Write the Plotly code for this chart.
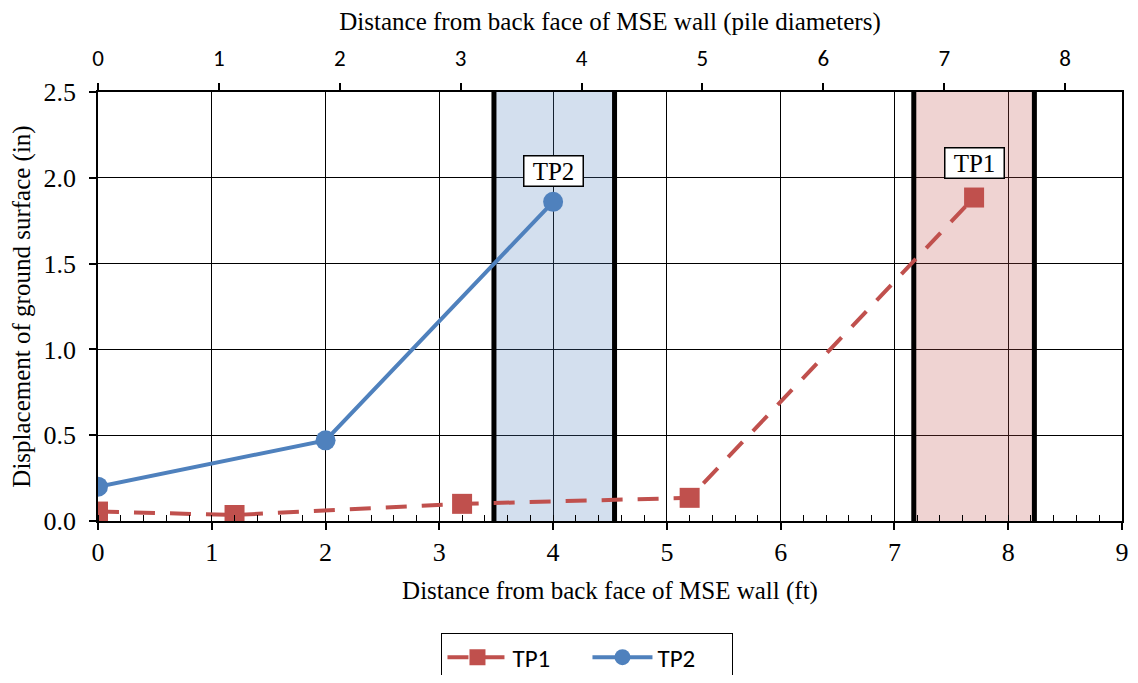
import plotly.graph_objects as go

# Data
tp1_x = [0, 1.2, 3.2, 5.2, 7.7]
tp1_y = [0.055, 0.035, 0.10, 0.135, 1.885]
tp2_x = [0, 2, 4]
tp2_y = [0.20, 0.47, 1.86]

pile_tp2 = [3.48, 4.54]
pile_tp1 = [7.17, 8.23]
pile_diam_ft = 1.0625

label_tp2 = (4.0, 2.04)
label_tp1 = (7.7, 2.085)

x_max = 9
y_max = 2.5
top_ticks = list(range(0, 9))

RED = "#C0504D"
BLUE = "#4F81BD"
SERIF = "Liberation Serif, Times New Roman, serif"
SANS = "Carlito, Calibri, Lato, Liberation Sans, sans-serif"

fig = go.Figure()

fig.add_trace(go.Scatter(
    x=tp1_x, y=tp1_y, name="TP1", mode="lines+markers",
    line=dict(color=RED, width=4, dash="21px,15px"),
    marker=dict(symbol="square", size=20, color=RED),
))
fig.add_trace(go.Scatter(
    x=tp2_x, y=tp2_y, name="TP2", mode="lines+markers",
    line=dict(color=BLUE, width=4),
    marker=dict(symbol="circle", size=20, color=BLUE),
))
# invisible trace for top axis
fig.add_trace(go.Scatter(x=[0, x_max / pile_diam_ft], y=[0, 0], xaxis="x2",
                         mode="markers", marker=dict(opacity=0), showlegend=False,
                         hoverinfo="skip"))

# shaded pile regions
fig.add_shape(type="rect", x0=pile_tp2[0], x1=pile_tp2[1], y0=0, y1=y_max,
              xref="x", yref="y", fillcolor="rgba(79,129,189,0.25)",
              line=dict(width=0), layer="between")
fig.add_shape(type="rect", x0=pile_tp1[0], x1=pile_tp1[1], y0=0, y1=y_max,
              xref="x", yref="y", fillcolor="rgba(192,80,77,0.25)",
              line=dict(width=0), layer="between")
for xv in pile_tp2 + pile_tp1:
    fig.add_shape(type="line", x0=xv, x1=xv, y0=0, y1=y_max, xref="x", yref="y",
                  line=dict(color="black", width=5), layer="between")

for txt, (lx, ly) in [("TP2", label_tp2), ("TP1", label_tp1)]:
    fig.add_annotation(x=lx, y=ly, text=txt, showarrow=False,
                       font=dict(family=SERIF, size=25, color="black"),
                       width=54, height=25,
                       bgcolor="white", bordercolor="black", borderwidth=1.5,
                       borderpad=2)

fig.update_layout(
    width=1122, height=667,
    margin=dict(l=90, r=8, t=84, b=154, autoexpand=False),
    plot_bgcolor="white", paper_bgcolor="white",
    font=dict(family=SERIF, size=25, color="black"),
    xaxis=dict(
        range=[0, x_max], dtick=1, tick0=0, automargin=False,
        ticklabeloverflow="allow",
        showgrid=True, gridcolor="black", gridwidth=1,
        showline=True, linecolor="black", linewidth=1.5, mirror=False,
        ticks="outside", ticklen=7, tickcolor="black", tickwidth=1.5,
        minor=dict(dtick=0.2, ticks="inside", ticklen=6, tickcolor="black",
                   tickwidth=1.2, showgrid=False),
        zeroline=False,
        tickfont=dict(family=SERIF, size=26),
        title=dict(text="Distance from back face of MSE wall (ft)",
                   font=dict(family=SERIF, size=25), standoff=16),
    ),
    xaxis2=dict(
        overlaying="x", side="top", range=[0, x_max / pile_diam_ft],
        tickvals=top_ticks, showgrid=False, zeroline=False, automargin=False,
        showline=True, linecolor="black", linewidth=1.5,
        ticks="outside", ticklen=7, tickcolor="black", tickwidth=1.5,
        ticklabelstandoff=8,
        tickfont=dict(family=SANS, size=23),
        title=dict(text="Distance from back face of MSE wall (pile diameters)",
                   font=dict(family=SERIF, size=25), standoff=12),
    ),
    yaxis=dict(
        range=[0, y_max], dtick=0.5, tickformat=".1f", automargin=False,
        showgrid=True, gridcolor="black", gridwidth=1,
        showline=True, linecolor="black", linewidth=1.5, mirror=True,
        ticks="outside", ticklen=7, tickcolor="black", tickwidth=1.5,
        ticklabelstandoff=8,
        zeroline=False,
        tickfont=dict(family=SERIF, size=26),
        title=dict(text="Displacement of ground surface (in)",
                   font=dict(family=SERIF, size=25), standoff=8),
    ),
    legend=dict(
        orientation="h", x=0.478, xanchor="center", y=-0.262, yanchor="top",
        bordercolor="black", borderwidth=1, bgcolor="white",
        font=dict(family=SANS, size=25), itemwidth=60, entrywidth=70,
    ),
    showlegend=True,
)

fig.write_html("out.html")
